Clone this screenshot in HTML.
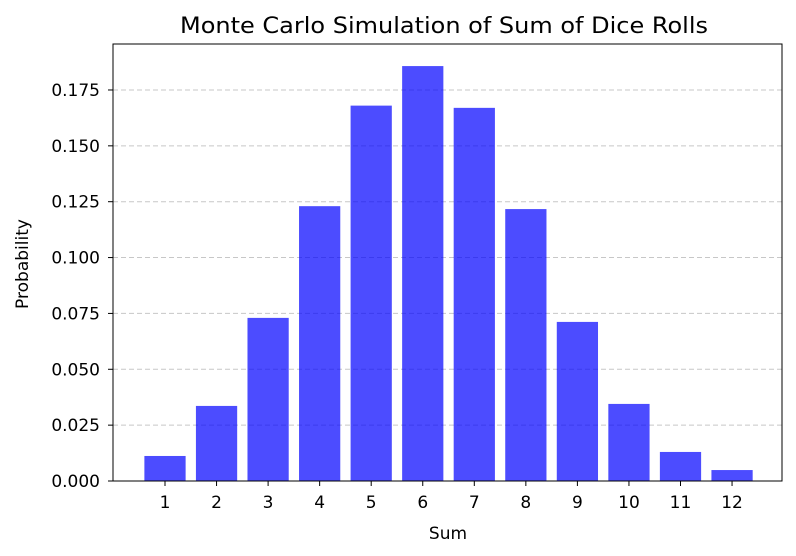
<!DOCTYPE html>
<html><head><meta charset="utf-8">
<style>
html,body{margin:0;padding:0;background:#fff;}
svg{display:block;font-family:"DejaVu Sans","Liberation Sans",sans-serif;}
</style></head>
<body>
<svg id="chart" width="796" height="556" viewBox="0 0 796 556">
<rect width="796" height="556" fill="#fff"/>
<text x="444" y="33" text-anchor="middle" font-size="22" textLength="528" lengthAdjust="spacingAndGlyphs" fill="#000">Monte Carlo Simulation of Sum of Dice Rolls</text>
<g id="grid"></g>
<g id="bars"></g>
<g id="axes"></g>
<text x="448" y="539" text-anchor="middle" font-size="17" fill="#000">Sum</text>
<text transform="translate(28,264) rotate(-90)" text-anchor="middle" font-size="17" fill="#000">Probability</text>
</svg>
<script>
const categories = [1,2,3,4,5,6,7,8,9,10,11,12];
const probabilities = [0.0112,0.0336,0.073,0.123,0.168,0.1857,0.167,0.1217,0.0712,0.0345,0.013,0.0049];
const yTicks = [0,0.025,0.05,0.075,0.1,0.125,0.15,0.175];
const yTickLabels = ["0.000","0.025","0.050","0.075","0.100","0.125","0.150","0.175"];

const NS = "http://www.w3.org/2000/svg";
const L = 113, R = 782, T = 44, B = 481;
const pxPerUnit = 55.86 / 0.025;
function y(v){ return B - v * pxPerUnit; }
const c0 = 165, step = 51.55;
function x(c){ return c0 + (c - categories[0]) * step; }
const barW = 0.8 * step;

function mk(tag, attrs, parent){
  const el = document.createElementNS(NS, tag);
  for (const k in attrs) el.setAttribute(k, attrs[k]);
  parent.appendChild(el);
  return el;
}
const grid = document.getElementById('grid');
const bars = document.getElementById('bars');
const axes = document.getElementById('axes');

yTicks.forEach((t, i) => {
  if (t > 0) {
    const g = mk('line', {x1:L, x2:R, y1:y(t), y2:y(t), stroke:'#b0b0b0', 'stroke-width':1, 'stroke-dasharray':'5,3', opacity:0.7}, grid);
    
    
  }
  const tk = mk('line', {x1:L-5, x2:L, y1:y(t), y2:y(t), stroke:'#000', 'stroke-width':1}, axes);
  
  
  const lb = mk('text', {x:L-13, y:y(t)+6, 'text-anchor':'end', 'font-size':17, fill:'#000'}, axes);
  lb.textContent = yTickLabels[i];
  
  
});

categories.forEach((c, i) => {
  const v = probabilities[i];
  const r = mk('rect', {x:x(c)-barW/2, y:y(v), width:barW, height:B-y(v), fill:'#0000ff', 'fill-opacity':0.7}, bars);
  
  
  const tk = mk('line', {x1:x(c), x2:x(c), y1:B, y2:B+5, stroke:'#000', 'stroke-width':1}, axes);
  
  
  const lb = mk('text', {x:x(c), y:B+27, 'text-anchor':'middle', 'font-size':17, fill:'#000'}, axes);
  lb.textContent = String(c);
  
  
});

const frame = mk('rect', {x:L, y:T, width:R-L, height:B-T, fill:'none', stroke:'#000', 'stroke-width':1}, axes);


</script>
</body></html>
